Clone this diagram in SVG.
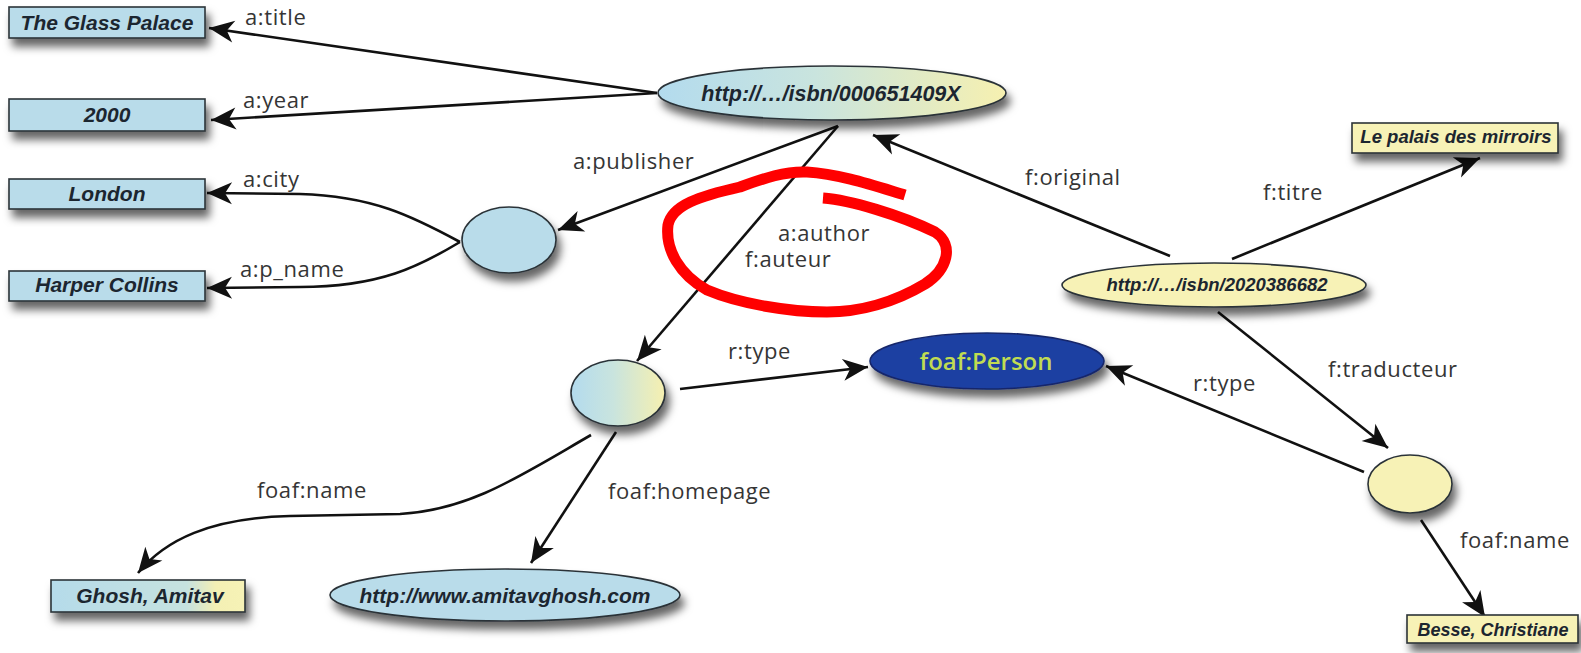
<svg xmlns="http://www.w3.org/2000/svg" width="1581" height="653" viewBox="0 0 1581 653">
  <style>
    .lbl { font-family: "Open Sans", "DejaVu Sans", sans-serif; font-size: 22px; fill: #353535; letter-spacing: 0.6px; }
    .nt { font-family: "Liberation Sans", Arial, sans-serif; font-weight: bold; font-style: italic; fill: #1c2630; text-anchor: middle; }
    .box { stroke: #2b3338; stroke-width: 1.6; }
    .edge { fill: none; stroke: #111; stroke-width: 2.6; marker-end: url(#arrow); }
    .blue { fill: #b9dcea; }
    .yellow { fill: #f7f2b6; }
  </style>
  <defs>
    <marker id="arrow" markerUnits="userSpaceOnUse" viewBox="-26 -13 28 26" refX="0" refY="0" markerWidth="28" markerHeight="26" orient="auto">
      <path d="M0,0 L-25,-11 L-18,0 L-25,11 Z" fill="#111"/>
    </marker>
    <linearGradient id="blueYellow" x1="0" y1="0" x2="1" y2="0">
      <stop offset="0" stop-color="#b3dbee"/>
      <stop offset="0.45" stop-color="#c9e4de"/>
      <stop offset="1" stop-color="#f6f0b0"/>
    </linearGradient>
    <linearGradient id="boxBlueYellow" x1="0" y1="0" x2="1" y2="0">
      <stop offset="0" stop-color="#b5dbea"/>
      <stop offset="0.7" stop-color="#c6e2df"/>
      <stop offset="0.85" stop-color="#f4f0b4"/>
      <stop offset="1" stop-color="#f6f2b6"/>
    </linearGradient>
    <filter id="shadow" x="-20%" y="-30%" width="150%" height="190%">
      <feDropShadow dx="4" dy="8" stdDeviation="4.5" flood-color="#000" flood-opacity="0.6"/>
    </filter>
  </defs>

  <rect width="1581" height="653" fill="#ffffff"/>

  <!-- connectors -->
  <g id="connectors">
    <path class="edge" d="M657,93 L209,28"/>
    <path class="edge" d="M657,93 L211,120"/>
    <path class="edge" d="M838,126 L558,230"/>
    <path class="edge" d="M460,242 C412,216 372,196 300,194 L207,193"/>
    <path class="edge" d="M460,242 C420,266 380,287 300,287 L207,288"/>
    <path class="edge" d="M838,126 L637,361"/>
    <path class="edge" d="M1170,256 L873,135"/>
    <path class="edge" d="M1232,259 L1480,158"/>
    <path class="edge" d="M1218,312 L1388,448"/>
    <path class="edge" d="M680,389 L868,367"/>
    <path class="edge" d="M1364,472 L1106,366"/>
    <path class="edge" d="M591,435 C520,476 470,510 400,514 L290,516 C210,518 165,540 138,573"/>
    <path class="edge" d="M616,432 L531,563"/>
    <path class="edge" d="M1421,520 L1485,617"/>
  </g>

  <!-- edge labels -->
  <g id="labels">
    <text class="lbl" x="245" y="25">a:title</text>
    <text class="lbl" x="243" y="108">a:year</text>
    <text class="lbl" x="243" y="187">a:city</text>
    <text class="lbl" x="240" y="277">a:p_name</text>
    <text class="lbl" x="573" y="169">a:publisher</text>
    <text class="lbl" x="778" y="241">a:author</text>
    <text class="lbl" x="745" y="267">f:auteur</text>
    <text class="lbl" x="1025" y="185">f:original</text>
    <text class="lbl" x="1263" y="200">f:titre</text>
    <text class="lbl" x="728" y="359">r:type</text>
    <text class="lbl" x="1193" y="391">r:type</text>
    <text class="lbl" x="1328" y="377">f:traducteur</text>
    <text class="lbl" x="257" y="498">foaf:name</text>
    <text class="lbl" x="608" y="499">foaf:homepage</text>
    <text class="lbl" x="1460" y="548">foaf:name</text>
  </g>

  <!-- literal boxes -->
  <g id="title-glass-palace">
    <rect class="box blue" x="9" y="7" width="196" height="31" filter="url(#shadow)"/>
    <text class="nt" x="107" y="30" font-size="21">The Glass Palace</text>
  </g>
  <g id="year-2000">
    <rect class="box blue" x="9" y="99" width="196" height="32" filter="url(#shadow)"/>
    <text class="nt" x="107" y="122" font-size="21">2000</text>
  </g>
  <g id="city-london">
    <rect class="box blue" x="9" y="179" width="196" height="30" filter="url(#shadow)"/>
    <text class="nt" x="107" y="201" font-size="21">London</text>
  </g>
  <g id="pname-harper-collins">
    <rect class="box blue" x="9" y="271" width="196" height="30" filter="url(#shadow)"/>
    <text class="nt" x="107" y="292" font-size="21">Harper Collins</text>
  </g>
  <g id="name-ghosh">
    <rect class="box" fill="url(#boxBlueYellow)" x="51" y="580" width="194" height="32" filter="url(#shadow)"/>
    <text class="nt" x="150" y="603" font-size="21">Ghosh, Amitav</text>
  </g>
  <g id="titre-palais">
    <rect class="box yellow" x="1352" y="123" width="206" height="30" filter="url(#shadow)"/>
    <text class="nt" x="1456" y="143" font-size="18.5">Le palais des mirroirs</text>
  </g>
  <g id="name-besse">
    <rect class="box yellow" x="1407" y="615" width="171" height="28" filter="url(#shadow)"/>
    <text class="nt" x="1493" y="636" font-size="18">Besse, Christiane</text>
  </g>

  <!-- resource ellipses -->
  <g id="isbn-000651409X">
    <ellipse class="box" fill="url(#blueYellow)" cx="832" cy="93" rx="174" ry="27" filter="url(#shadow)"/>
    <text class="nt" x="831" y="101" font-size="21.5">http://…/isbn/000651409X</text>
  </g>
  <g id="isbn-2020386682">
    <ellipse class="box yellow" cx="1214" cy="285" rx="152" ry="22" filter="url(#shadow)"/>
    <text class="nt" x="1217" y="291" font-size="18.5">http://…/isbn/2020386682</text>
  </g>
  <g id="homepage">
    <ellipse class="box blue" cx="505" cy="595" rx="175" ry="26" filter="url(#shadow)"/>
    <text class="nt" x="505" y="603" font-size="21">http://www.amitavghosh.com</text>
  </g>
  <g id="foaf-person">
    <ellipse cx="987" cy="361" rx="117" ry="28" fill="#1f3fa2" stroke="#16286b" stroke-width="1.6" filter="url(#shadow)"/>
    <text x="986" y="370" font-family="'Open Sans', 'Liberation Sans', sans-serif" font-size="24" font-weight="600" fill="#c0dc52" text-anchor="middle">foaf:Person</text>
  </g>

  <!-- blank nodes -->
  <g id="publisher-node">
    <ellipse class="box blue" cx="509" cy="240" rx="47" ry="33" filter="url(#shadow)"/>
  </g>
  <g id="author-node">
    <ellipse class="box" fill="url(#blueYellow)" cx="618" cy="393" rx="47" ry="33" filter="url(#shadow)"/>
  </g>
  <g id="translator-node">
    <ellipse class="box yellow" cx="1410" cy="484" rx="42" ry="29" filter="url(#shadow)"/>
  </g>

  <!-- hand-drawn highlight around the author label -->
  <path d="M823,198 C850,200 900,215 935,232 C955,245 947,270 925,284 C895,302 860,312 827,312 C790,312 740,304 707,290 C680,275 665,250 668,225 C672,205 700,196 740,187 C765,178 785,171 807,172 C840,174 875,186 905,195" fill="none" stroke="#ff0000" stroke-width="11"/>
</svg>
